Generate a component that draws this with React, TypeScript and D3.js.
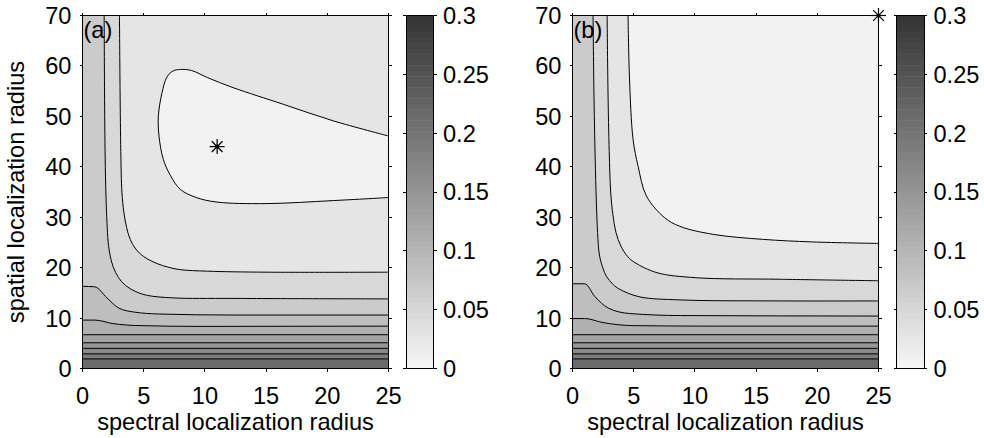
import * as d3 from 'd3';

const spectralTicks = [0, 5, 10, 15, 20, 25];
const spatialTicks = [0, 10, 20, 30, 40, 50, 60, 70];
const colorTicks = [0, 0.05, 0.1, 0.15, 0.2, 0.25, 0.3];
const colorTickLabels = ['0', '0.05', '0.1', '0.15', '0.2', '0.25', '0.3'];

// field value of each filled band, lightest band first
const bandValues = [0.008, 0.028, 0.048, 0.068, 0.088, 0.108, 0.128, 0.148, 0.168, 0.188, 0.215];

type Pt = [number, number];

// panel (a) contour lines, points are [spectral, spatial]
const islandA: Pt[] = [
  [25, 46.1], [20.5, 49.1], [16.4, 52.4], [12.3, 55.7], [10.2, 57.7], [8.9, 59.1], [8.0, 59.3],
  [7.4, 59.0], [6.9, 57.8], [6.5, 54.7], [6.2, 50.1], [6.25, 46.1], [6.6, 41.5], [7.2, 38.2],
  [8.0, 35.5], [9.3, 33.9], [11.0, 33.0], [15.0, 32.7], [20.5, 33.3], [25, 33.9],
];
const lineA2: Pt[] = [
  [3.02, 70], [3.07, 55], [3.13, 43], [3.22, 35], [3.38, 31], [3.6, 28], [3.9, 25.6], [4.35, 23.7],
  [5.0, 22.2], [6.1, 20.8], [7.0, 20.1], [8.0, 19.6], [10.2, 19.3], [15, 19.1], [25, 19.1],
];
const lineA3: Pt[] = [
  [1.77, 70], [1.8, 55], [1.85, 42], [1.92, 34], [2.0, 29], [2.1, 25], [2.25, 22.5], [2.5, 20.2],
  [2.95, 18.0], [3.5, 16.5], [4.3, 15.3], [5.3, 14.5], [7.4, 14.0], [12.3, 13.9], [25, 13.8],
];
const lineA4: Pt[] = [
  [0, 16.3], [1.0, 16.2], [2.0, 14.0], [2.95, 12.0], [4.2, 11.2], [6.3, 10.8], [12.3, 10.6], [25, 10.6],
];
const lineA5: Pt[] = [[0, 9.6], [1.0, 9.6], [2.5, 8.9], [4.7, 8.5], [9.6, 8.35], [25, 8.4]];

// panel (b) contour lines
const lineB1: Pt[] = [
  [4.54, 70], [4.65, 58], [4.95, 45.4], [5.36, 40.1], [6.04, 34.2], [7.53, 29.9], [8.76, 28.2],
  [11.5, 26.6], [15.6, 25.6], [19.6, 25.1], [25, 24.8],
];
const lineB2: Pt[] = [
  [2.83, 70], [2.9, 55], [3.0, 43], [3.12, 35], [3.3, 30.5], [3.55, 27], [3.95, 24.3], [4.5, 22.2],
  [5.1, 21.0], [6.9, 19.0], [10.1, 18.0], [16.9, 17.7], [25, 17.4],
];
const lineB3: Pt[] = [
  [1.68, 70], [1.75, 55], [1.85, 42], [1.95, 33], [2.05, 27], [2.2, 22.5], [2.5, 19.8], [2.77, 18.3],
  [3.3, 16.7], [3.86, 15.7], [5.5, 14.2], [8.8, 13.6], [16.9, 13.4], [25, 13.4],
];
const lineB4: Pt[] = [[0, 16.8], [1.0, 16.8], [1.82, 14.3], [2.91, 12.0], [4.68, 10.9], [8.8, 10.5], [25, 10.4]];
const lineB5: Pt[] = [[0, 9.9], [1.0, 9.9], [2.5, 9.1], [4.95, 8.5], [11.5, 8.4], [25, 8.4]];

// lower, nearly flat contours (same in both panels)
const flat6: Pt[] = [[0, 6.7], [25, 6.7]];
const flat7: Pt[] = [[0, 5.1], [25, 5.1]];
const flat8: Pt[] = [[0, 4.0], [25, 4.0]];
const flat9: Pt[] = [[0, 2.9], [25, 2.9]];
const flat10: Pt[] = [[0, 1.9], [25, 1.9]];

const contoursA = [islandA, lineA2, lineA3, lineA4, lineA5, flat6, flat7, flat8, flat9, flat10];
const contoursB = [lineB1, lineB2, lineB3, lineB4, lineB5, flat6, flat7, flat8, flat9, flat10];

const minimumA: Pt = [11, 44];
const minimumB: Pt = [25, 70];

const FONT = '"Liberation Sans", Arial, Helvetica, sans-serif';
const FS = 23.6;

const gray = d3.scaleLinear<string>().domain([0, 0.3]).range(['#f7f7f7', '#333333']);

const top = 15.5;
const bottom = 368.5;
const plotW = 306;
const cbW = 27.5;

function Panel({ id, left, cbLeft, label, contours, closedFirst, star, showYLabel }: {
  id: string; left: number; cbLeft: number; label: string; contours: Pt[][];
  closedFirst: boolean; star: Pt; showYLabel: boolean;
}) {
  const x = d3.scaleLinear().domain([0, 25]).range([left, left + plotW]);
  const y = d3.scaleLinear().domain([0, 70]).range([bottom, top]);
  const cy = d3.scaleLinear().domain([0, 0.3]).range([bottom, top]);

  const smooth = d3.line<Pt>().x((d) => x(d[0])).y((d) => y(d[1])).curve(d3.curveCatmullRom.alpha(0.5));
  const monotone = d3.line<Pt>().x((d) => x(d[0])).y((d) => y(d[1])).curve(d3.curveMonotoneX);
  // contours entering from the left edge have a kink, keep them monotone
  const path = (pts: Pt[]) => ((pts[0][0] === 0 ? monotone(pts) : smooth(pts)) ?? '');

  const darkSide = (pts: Pt[]) => {
    let d = path(pts);
    d += `L${x(25)},${y(0)}L${x(0)},${y(0)}`;
    if (pts[0][1] >= 70 && pts[0][0] > 0) d += `L${x(0)},${y(70)}`;
    return d + 'Z';
  };

  const baseValue = closedFirst ? bandValues[1] : bandValues[0];
  const steps = d3.range(64);
  const sx = x(star[0]);
  const sy = y(star[1]);
  const r = 7.5;

  return (
    <g>
      <defs>
        <clipPath id={`clip-${id}`}>
          <rect x={x(0)} y={y(70)} width={plotW} height={bottom - top} />
        </clipPath>
      </defs>
      <g clipPath={`url(#clip-${id})`}>
        <rect x={x(0)} y={y(70)} width={plotW} height={bottom - top} fill={gray(baseValue)} />
        {contours.map((pts, k) =>
          closedFirst && k === 0 ? (
            <path key={k} d={path(pts) + 'Z'} fill={gray(bandValues[0])} />
          ) : (
            <path key={k} d={darkSide(pts)} fill={gray(bandValues[k + 1])} />
          )
        )}
        {contours.map((pts, k) => (
          <path key={`l${k}`} d={path(pts)} fill="none" stroke="#000" strokeWidth={1} />
        ))}
      </g>

      {/* axes box and ticks */}
      <rect x={x(0)} y={y(70)} width={plotW} height={bottom - top} fill="none" stroke="#000" strokeWidth={1} shapeRendering="crispEdges" />
      {spectralTicks.map((t) => (
        <g key={`xt${t}`} shapeRendering="crispEdges">
          <line x1={x(t)} x2={x(t)} y1={bottom} y2={bottom + 3} stroke="#000" />
          <line x1={x(t)} x2={x(t)} y1={top} y2={top - 3} stroke="#000" />
          <text x={x(t)} y={bottom + 35} textAnchor="middle" fontFamily={FONT} fontSize={FS}>{t}</text>
        </g>
      ))}
      {spatialTicks.map((t) => (
        <g key={`yt${t}`} shapeRendering="crispEdges">
          <line x1={x(0)} x2={x(0) - 3} y1={y(t)} y2={y(t)} stroke="#000" />
          <line x1={x(25)} x2={x(25) + 3} y1={y(t)} y2={y(t)} stroke="#000" />
          <text x={x(0) - 11} y={y(t)} dy="0.36em" textAnchor="end" fontFamily={FONT} fontSize={FS}>{t}</text>
        </g>
      ))}
      <text x={x(0) + 1} y={38} fontFamily={FONT} fontSize={FS}>{label}</text>

      {/* minimum marker */}
      <g stroke="#000" strokeWidth={1.2}>
        <line x1={sx - r} x2={sx + r} y1={sy} y2={sy} />
        <line x1={sx} x2={sx} y1={sy - r} y2={sy + r} />
        <line x1={sx - r * 0.72} x2={sx + r * 0.72} y1={sy - r * 0.72} y2={sy + r * 0.72} />
        <line x1={sx - r * 0.72} x2={sx + r * 0.72} y1={sy + r * 0.72} y2={sy - r * 0.72} />
      </g>
      <circle cx={sx} cy={sy} r={2} fill="#000" />

      <text x={(x(0) + x(25)) / 2} y={430} textAnchor="middle" fontFamily={FONT} fontSize={FS}>
        spectral localization radius
      </text>
      {showYLabel && (
        <text transform={`translate(24,${(top + bottom) / 2}) rotate(-90)`} textAnchor="middle" fontFamily={FONT} fontSize={FS}>
          spatial localization radius
        </text>
      )}

      {/* colorbar */}
      {steps.map((i) => (
        <rect
          key={`cb${i}`}
          x={cbLeft}
          y={cy(((i + 1) / 64) * 0.3)}
          width={cbW}
          height={cy((i / 64) * 0.3) - cy(((i + 1) / 64) * 0.3) + 0.5}
          fill={gray(((i + 0.5) / 64) * 0.3)}
        />
      ))}
      <rect x={cbLeft} y={top} width={cbW} height={bottom - top} fill="none" stroke="#000" shapeRendering="crispEdges" />
      {colorTicks.map((t, i) => (
        <g key={`ct${t}`} shapeRendering="crispEdges">
          <line x1={cbLeft} x2={cbLeft - 3} y1={cy(t)} y2={cy(t)} stroke="#000" />
          <line x1={cbLeft + cbW} x2={cbLeft + cbW + 3} y1={cy(t)} y2={cy(t)} stroke="#000" />
          <text x={cbLeft + cbW + 9.5} y={cy(t)} dy="0.36em" fontFamily={FONT} fontSize={FS}>{colorTickLabels[i]}</text>
        </g>
      ))}
    </g>
  );
}

export default function App() {
  return (
    <div style={{ position: 'absolute', left: 0, top: 0 }}>
      <svg width={984} height={438} viewBox="0 0 984 438" style={{ display: 'block', background: '#fff' }}>
        <Panel id="a" left={82.5} cbLeft={406} label="(a)" contours={contoursA} closedFirst star={minimumA} showYLabel />
        <Panel id="b" left={572.5} cbLeft={896.5} label="(b)" contours={contoursB} closedFirst={false} star={minimumB} showYLabel={false} />
      </svg>
    </div>
  );
}
